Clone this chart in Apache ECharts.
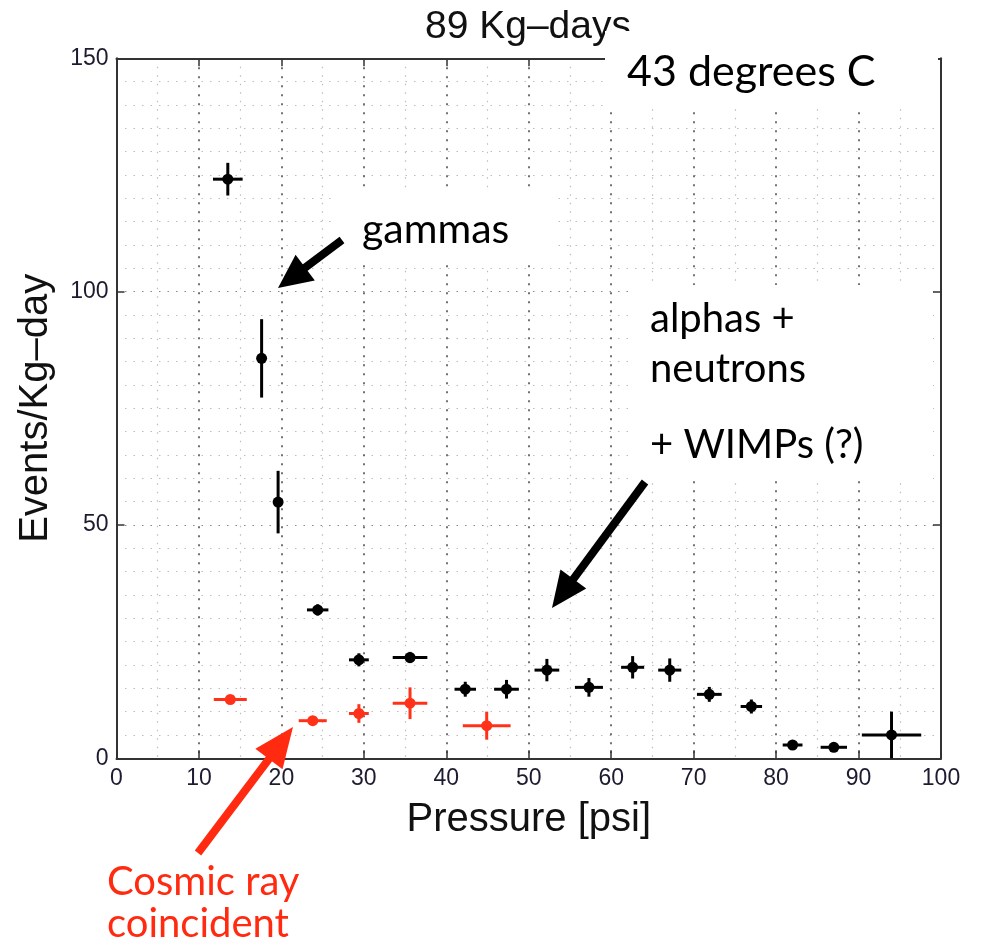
<!DOCTYPE html>
<html><head><meta charset="utf-8">
<script src="https://cdn.jsdelivr.net/npm/echarts@6/dist/echarts.min.js"></script>
<style>html,body{margin:0;padding:0;background:#fff}#c{width:984px;height:944px}</style>
</head><body><div id="c"></div>
<script>
// ---- data ----
const xTicks = [0,10,20,30,40,50,60,70,80,90,100];
const yTicks = [0,50,100,150];
const blackX    = [13.5, 17.6, 19.6, 24.4, 29.4, 35.6, 42.3, 47.3, 52.2, 57.3, 62.6, 67.1, 71.9, 77.0, 82.0, 87.0, 94.0];
const blackY    = [124.1, 85.7, 54.9, 31.8, 21.1, 21.6, 14.8, 14.8, 18.9, 15.2, 19.5, 18.9, 13.7, 11.1, 2.85, 2.36, 5.0];
const blackXErr = [1.8, 0.3, 0.3, 1.3, 1.2, 2.1, 1.3, 1.5, 1.5, 1.7, 1.4, 1.4, 1.5, 1.3, 1.2, 1.6, 3.6];
const blackYErr = [3.5, 8.4, 6.7, 1.2, 1.4, 1.2, 1.6, 2.0, 2.4, 2.0, 2.4, 2.5, 1.6, 1.5, 0.8, 0.5, 5.0];
const redX      = [13.8, 23.8, 29.4, 35.6, 44.9];
const redY      = [12.6, 8.06, 9.6, 11.8, 7.0];
const redXErr   = [2.0, 1.7, 1.2, 2.1, 2.9];
const redYErr   = [0.8, 0.8, 2.0, 3.4, 3.0];

const titleText = '89 Kg–days';
const xName = 'Pressure [psi]';
const yName = 'Events/Kg–day';

// ---- build ----
const zip = (a,b,c,d) => a.map((v,i)=>[v,b[i],c[i],d[i]]);
const blackData = zip(blackX, blackY, blackXErr, blackYErr);
const redData = zip(redX, redY, redXErr, redYErr);

function renderErr(params, api) {
  const x = api.value(0), y = api.value(1), xe = api.value(2), ye = api.value(3);
  const c = api.coord([x, y]);
  const l = api.coord([x - xe, y]), r = api.coord([x + xe, y]);
  const t = api.coord([x, y + ye]), b = api.coord([x, y - ye]);
  const color = api.visual('color');
  return {type:'group', children:[
    {type:'line', shape:{x1:l[0],y1:l[1],x2:r[0],y2:r[1]}, style:{stroke:color,lineWidth:3}},
    {type:'line', shape:{x1:t[0],y1:t[1],x2:b[0],y2:b[1]}, style:{stroke:color,lineWidth:3}},
    {type:'circle', shape:{cx:c[0],cy:c[1],r:5.5}, style:{fill:color}}
  ]};
}

const labelFont = {fontFamily:'Liberation Sans', fontSize:23, color:'#1c1c30'};
const majorGrid = {show:true, lineStyle:{color:'#444', type:[2,7], width:1.5}};
const minorGrid = {show:true, lineStyle:{color:'#bdbdbd', type:[1.5,7], width:1.2}};
const axisLine = {show:true, onZero:false, lineStyle:{color:'#333', width:2}};

const chart = echarts.init(document.getElementById('c'), null, {renderer:'canvas'});
const option = {
  backgroundColor:'#fff',
  animation:false,
  grid:{left:116.5, right:43, top:58.3, bottom:185.7, containLabel:false},
  xAxis:[
    {type:'value', min:xTicks[0], max:xTicks[xTicks.length-1], interval:10, position:'bottom',
     name:xName, nameLocation:'middle', nameGap:42,
     nameTextStyle:{fontFamily:'Liberation Sans', fontSize:40, color:'#111'},
     axisLine:axisLine, axisTick:{show:true, inside:true, length:8, lineStyle:{color:'#333', width:1.5}},
     axisLabel:Object.assign({margin:9}, labelFont),
     splitLine:majorGrid, minorTick:{show:false, splitNumber:2}, minorSplitLine:minorGrid},
    {type:'value', min:xTicks[0], max:xTicks[xTicks.length-1], interval:10, position:'top',
     axisLine:axisLine, axisTick:{show:true, inside:true, length:8, lineStyle:{color:'#333', width:1.5}},
     axisLabel:{show:false}, splitLine:{show:false}}
  ],
  yAxis:[
    {type:'value', min:yTicks[0], max:yTicks[yTicks.length-1], interval:50, position:'left',
     name:yName, nameLocation:'middle', nameGap:61, nameRotate:90,
     nameTextStyle:{fontFamily:'Liberation Sans', fontSize:40, color:'#111'},
     axisLine:axisLine, axisTick:{show:true, inside:true, length:8, lineStyle:{color:'#333', width:1.5}},
     axisLabel:Object.assign({margin:8}, labelFont),
     splitLine:{show:true, lineStyle:{color:'#888', type:[1.5,7], width:1.2}},
     minorTick:{show:false, splitNumber:10}, minorSplitLine:minorGrid},
    {type:'value', min:yTicks[0], max:yTicks[yTicks.length-1], interval:50, position:'right',
     axisLine:axisLine, axisTick:{show:true, inside:true, length:8, lineStyle:{color:'#333', width:1.5}},
     axisLabel:{show:false}, splitLine:{show:false}}
  ],
  series:[
    {type:'custom', name:'all', renderItem:renderErr, data:blackData, itemStyle:{color:'#000'},
     encode:{x:0, y:1}, z:5, clip:false},
    {type:'custom', name:'cosmic', renderItem:renderErr, data:redData, itemStyle:{color:'#ff3219'},
     encode:{x:0, y:1}, z:6, clip:false}
  ]
};
chart.setOption(option);

// ---- annotations (title, white text boxes and arrows laid over the plot) ----
function arrow(x1,y1,x2,y2,color,w,hl,hw){
  const dx=x2-x1, dy=y2-y1, L=Math.hypot(dx,dy), ux=dx/L, uy=dy/L, px=-uy, py=ux;
  const bx=x2-ux*hl, by=y2-uy*hl;
  return [
    {type:'line', z:101, shape:{x1:x1,y1:y1,x2:bx+ux*2,y2:by+uy*2}, style:{stroke:color,lineWidth:w}},
    {type:'polygon', z:101, shape:{points:[[x2,y2],[bx+px*hw/2,by+py*hw/2],[bx-px*hw/2,by-py*hw/2]]}, style:{fill:color}}
  ];
}
// baseline-positioned text: y given as baseline, converted to top of line box
const txt = (s,x,base,color,size) => {
  size = size || 41;
  return {type:'text', z:102, style:{text:s, x:x, y:base - Math.round(0.83*size), fill:color||'#000', font:size+'px Lato', verticalAlign:'top'}};
};
const rect = (x,y,w,h) => ({type:'rect', z:100, shape:{x:x,y:y,width:w,height:h}, style:{fill:'#fff'}});
chart.setOption({graphic:[
  {type:'text', z:99, style:{text:titleText, x:528, y:8, fill:'#111', font:'39px "Liberation Sans"', align:'center', verticalAlign:'top'}},
  rect(605, 31, 333, 77),
  rect(337, 193, 216, 72),
  rect(630, 285, 303, 195),
  txt('43 degrees C', 627, 87, '#000', 43),
  txt('gammas', 362, 243),
  txt('alphas +', 650, 332, '#000', 40),
  txt('neutrons', 650, 382, '#000', 40),
  txt('+ WIMPs (?)', 650, 458, '#000', 40),
  txt('Cosmic ray', 107, 895, '#ff2a0f', 40),
  txt('coincident', 107, 937, '#ff2a0f', 40),
  ...arrow(342, 240, 278, 288, '#000', 8, 34, 32),
  ...arrow(645, 482, 552, 608, '#000', 8, 36, 32),
  ...arrow(198, 853, 293, 727, '#ff2a0f', 8, 40, 34)
]});
</script>
</body></html>
